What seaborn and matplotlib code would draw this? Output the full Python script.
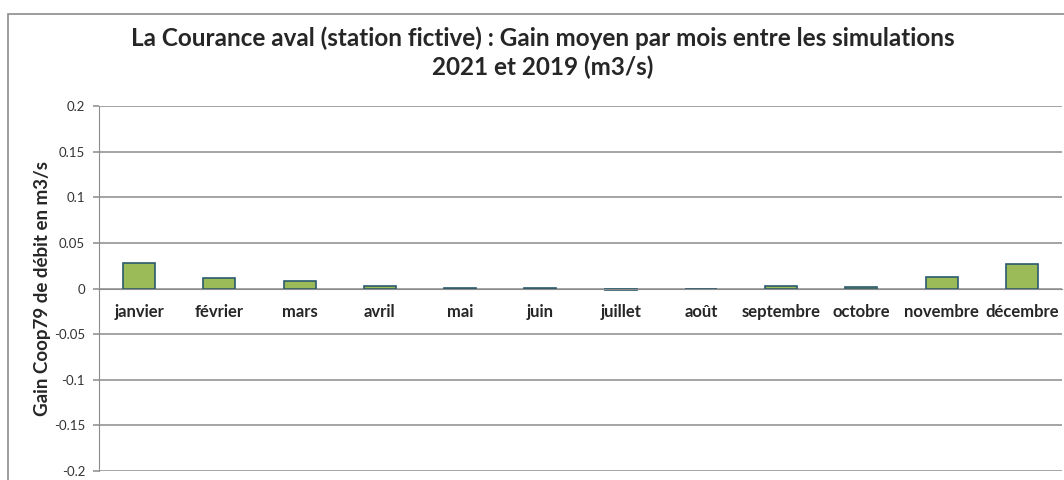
import numpy as np
import seaborn as sb
import matplotlib.pyplot as plt
from matplotlib.patches import Rectangle
from matplotlib.ticker import FuncFormatter, FixedLocator

## gain moyen par mois (m3/s)
months = ["janvier", "février", "mars", "avril", "mai", "juin", "juillet",
          "août", "septembre", "octobre", "novembre", "décembre"]
gain = [0.0275, 0.0115, 0.0078, 0.0022, 0.0006, 0.0006, -0.0013,
        -0.0008, 0.0025, 0.0015, 0.0125, 0.0268]
yticks = [-0.2, -0.15, -0.1, -0.05, 0, 0.05, 0.1, 0.15, 0.2]

title = "La Courance aval (station fictive) : Gain moyen par mois entre les simulations\n2021 et 2019 (m3/s)"
ylabel = "Gain Coop79 de débit en m3/s"

sb.set_style("white")
plt.rcParams['font.family'] = ['Lato', 'DejaVu Sans']

grey = '#8c8c8c'
fig = plt.figure(figsize=(10.64, 4.8), dpi=100)
ax = fig.add_axes([99 / 1064, 9 / 480, 963 / 1064, 365 / 480])

sb.barplot(x=months, y=gain, color='#9bbb59', edgecolor='#2a5a6e',
           linewidth=1.2, width=0.4, saturation=1, ax=ax)

ax.set_ylim(-0.2, 0.2)
ax.set_xlim(-0.5, len(months) - 0.5)
ax.yaxis.set_major_locator(FixedLocator(yticks))
ax.yaxis.set_major_formatter(FuncFormatter(lambda v, p: "%g" % v))
ax.yaxis.grid(True, color=grey, linewidth=1.1)
ax.set_axisbelow(True)

# axe des catégories posé sur zéro
ax.spines['bottom'].set_position(('data', 0))
ax.spines['bottom'].set_color(grey)
ax.spines['left'].set_color(grey)
ax.spines['top'].set_visible(False)
ax.spines['right'].set_visible(False)
ax.set_xticks(np.arange(len(months)) - 0.5, minor=True)
ax.tick_params(axis='x', which='major', length=0, pad=11)
ax.tick_params(axis='x', which='minor', length=5, color=grey, width=1.1)
ax.tick_params(axis='y', length=4, color=grey, width=1.1, left=True, pad=6,
               labelsize=9.5, labelcolor='#333333')
for lab in ax.get_xticklabels():
    lab.set_fontweight('bold')
    lab.set_fontsize(12)
ax.set_xlabel("")
ax.set_ylabel(ylabel, fontsize=13.5, fontweight='bold', labelpad=2)

fig.text(0.51, 0.835, title, ha='center', va='bottom', fontsize=17.5,
         fontweight='bold', linespacing=1.3)

# cadre du graphique
fig.patches.append(Rectangle((8 / 1064, -0.05), 1.1, 0.05 + 466 / 480,
                             transform=fig.transFigure, fill=False,
                             edgecolor=grey, linewidth=1.2))

plt.savefig("out.png", dpi=100)
